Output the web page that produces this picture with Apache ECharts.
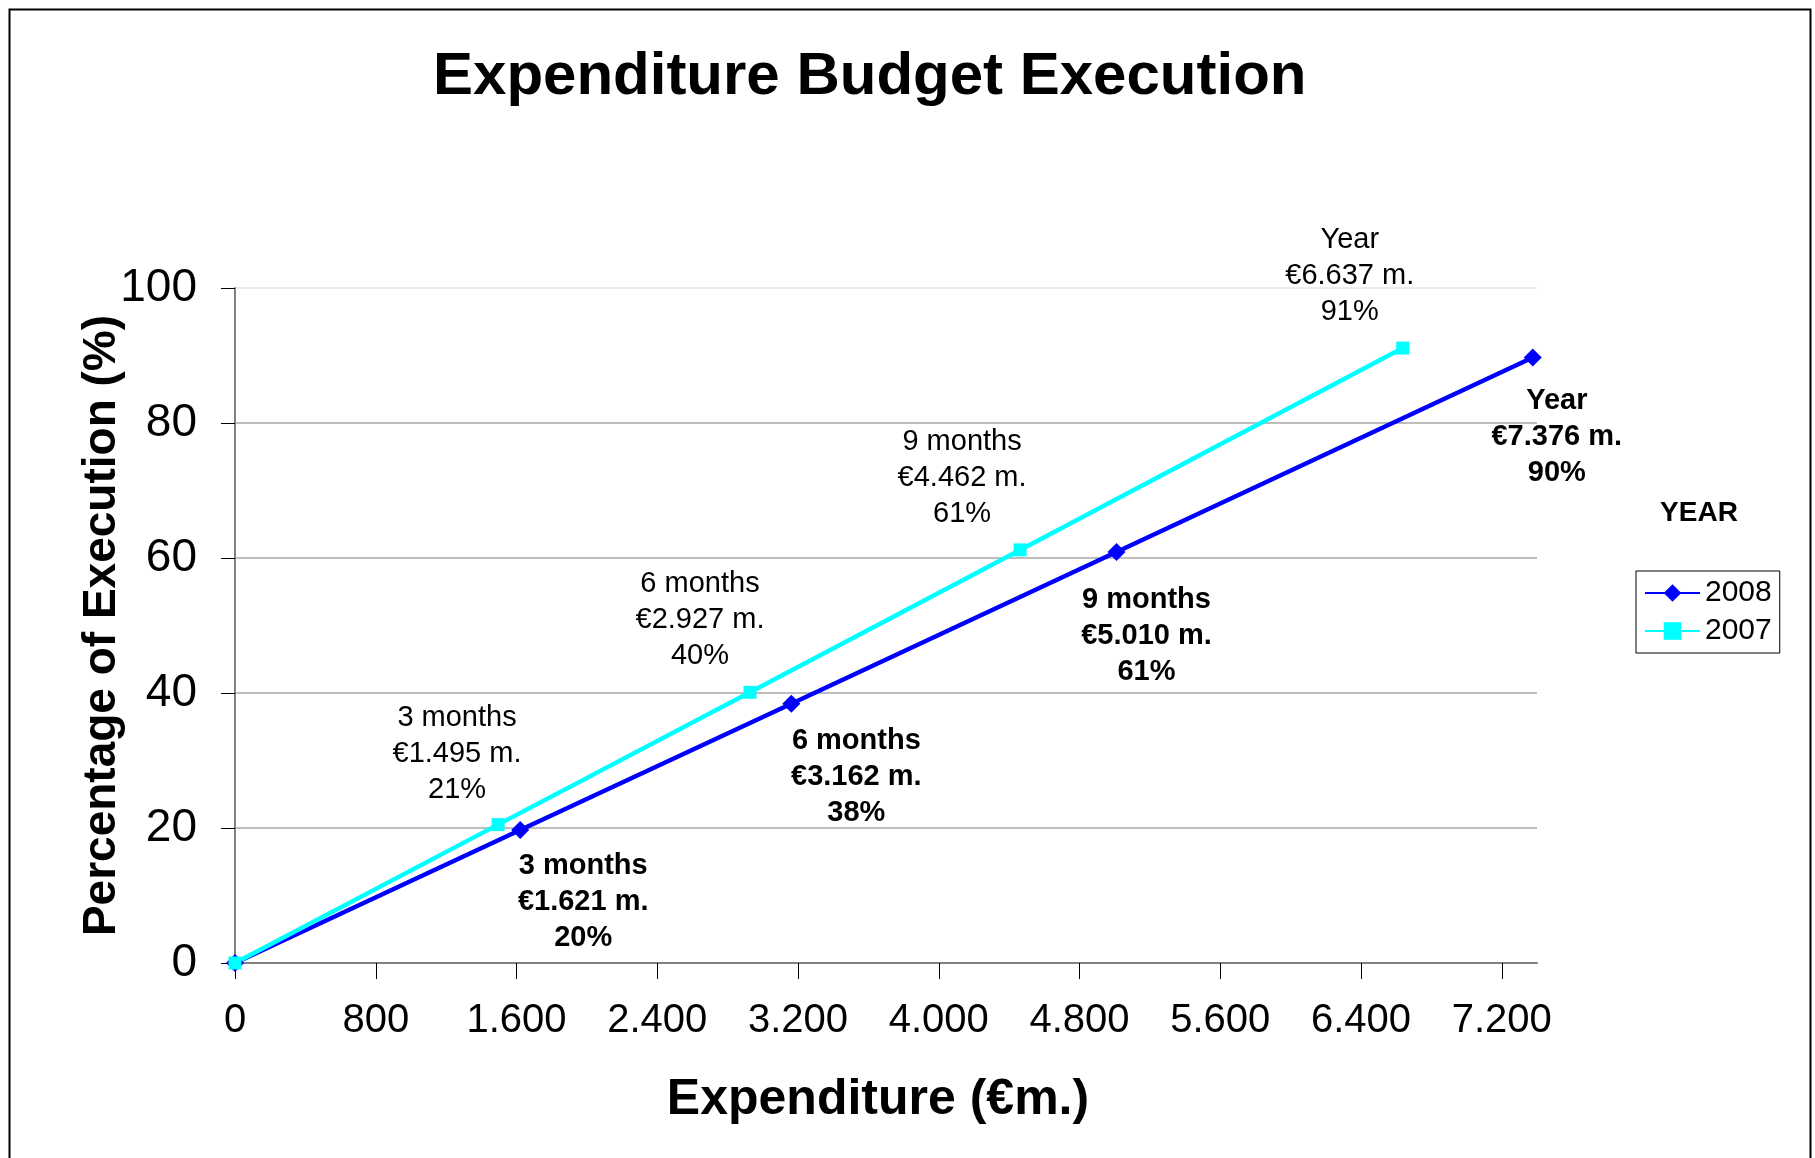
<!DOCTYPE html>
<html>
<head>
<meta charset="utf-8">
<title>Expenditure Budget Execution</title>
<script src="https://cdn.jsdelivr.net/npm/echarts@6/dist/echarts.min.js"></script>
<style>
  html, body { margin: 0; padding: 0; background: #fff; }
  #chart { width: 1815px; height: 1158px; }
</style>
</head>
<body>
<div id="chart"></div>
<script>
// values (expenditure in thousands of euro, execution in %)
const periods = ['', '3 months', '6 months', '9 months', 'Year'];
const spend2008 = [0, 1621, 3162, 5010, 7376];
const pct2008 = [0, 19.7, 38.4, 60.9, 89.7];
const spend2007 = [0, 1495, 2927, 4462, 6637];
const pct2007 = [0, 20.5, 40.1, 61.2, 91.1];
const xTicks = [0, 800, 1600, 2400, 3200, 4000, 4800, 5600, 6400, 7200];

// where each label sits relative to its marker
const offsets2008 = [null, [63, 72], [65, 73], [30, 84], [24, 79]];
const offsets2007 = [null, [-41, -71], [-50, -72], [-58, -72], [-53, -72]];

const FONT = '"Liberation Sans", Arial, sans-serif';

function euro(v) {
    if (v < 1000) return String(v);
    return Math.floor(v / 1000) + '.' + String(v % 1000).padStart(3, '0');
}

function buildData(xs, ys, offs, bold) {
    return xs.map((x, i) => {
        const item = { value: [x, ys[i]] };
        if (i === 0) {
            item.label = { show: false };
        } else {
            item.label = {
                show: true,
                position: 'inside',
                offset: offs[i],
                align: 'center',
                verticalAlign: 'middle',
                fontFamily: FONT,
                fontSize: 29,
                lineHeight: 36,
                fontWeight: bold ? 'bold' : 'normal',
                color: '#000',
                formatter: periods[i] + '\n€' + euro(x) + ' m.\n' + Math.round(ys[i]) + '%'
            };
        }
        return item;
    });
}

const chart = echarts.init(document.getElementById('chart'));
const option = {
    animation: false,
    backgroundColor: '#fff',
    title: {
        text: 'Expenditure Budget Execution',
        left: 428,
        top: 42,
        textStyle: { fontFamily: FONT, fontSize: 60, fontWeight: 'bold', color: '#000' }
    },
    legend: {
        orient: 'vertical',
        left: 1636,
        top: 571,
        padding: [7, 8, 7, 8],
        itemGap: 8,
        itemWidth: 55,
        itemHeight: 22,
        borderColor: '#000',
        borderWidth: 1,
        textStyle: { fontFamily: FONT, fontSize: 30, color: '#000' },
        data: ['2008', '2007']
    },
    grid: { left: 235, right: 278, top: 288, bottom: 195 },
    xAxis: {
        type: 'value',
        min: 0,
        max: 7400,
        interval: 800,
        name: 'Expenditure (€m.)',
        nameLocation: 'middle',
        nameGap: 112,
        nameMoveOverlap: false,
        nameTextStyle: { fontFamily: FONT, fontSize: 50, fontWeight: 'bold', color: '#000', padding: [0, 16, 0, 0] },
        axisLine: { lineStyle: { color: '#808080', width: 2 } },
        axisTick: { show: true, length: 16, customValues: xTicks, lineStyle: { color: '#000', width: 1 } },
        axisLabel: {
            customValues: xTicks,
            margin: 38,
            fontFamily: FONT,
            fontSize: 40,
            color: '#000',
            formatter: euro
        },
        splitLine: { show: false }
    },
    yAxis: {
        type: 'value',
        min: 0,
        max: 100,
        interval: 20,
        name: 'Percentage of Execution (%)',
        nameLocation: 'middle',
        nameRotate: 90,
        nameGap: 110,
        nameMoveOverlap: false,
        nameTextStyle: { fontFamily: FONT, fontSize: 46, fontWeight: 'bold', color: '#000' },
        axisLine: { show: true, lineStyle: { color: '#808080', width: 2 } },
        axisTick: { show: true, length: 14, lineStyle: { color: '#000', width: 1 } },
        axisLabel: { margin: 38, fontFamily: FONT, fontSize: 46, color: '#000' },
        splitLine: {
            show: true,
            lineStyle: { color: ['#bdbdbd', '#bdbdbd', '#bdbdbd', '#bdbdbd', '#bdbdbd', '#ececec'], width: 2 }
        }
    },
    series: [
        {
            name: '2008',
            type: 'line',
            symbol: 'diamond',
            symbolSize: 18,
            showAllSymbol: true,
            itemStyle: { color: '#0000ff' },
            lineStyle: { color: '#0000ff', width: 4.5 },
            emphasis: { disabled: true },
            data: buildData(spend2008, pct2008, offsets2008, true)
        },
        {
            name: '2007',
            type: 'line',
            symbol: 'rect',
            symbolSize: 13,
            showAllSymbol: true,
            itemStyle: { color: '#00ffff' },
            lineStyle: { color: '#00ffff', width: 4.5 },
            emphasis: { disabled: true },
            data: buildData(spend2007, pct2007, offsets2007, false)
        }
    ],
    graphic: [
        {
            type: 'rect',
            left: 7,
            top: 7,
            shape: { width: 1801, height: 1170 },
            style: { fill: null, stroke: '#000', lineWidth: 2 },
            silent: true
        },
        {
            type: 'text',
            x: 1699,
            y: 513,
            style: {
                text: 'YEAR',
                fontFamily: FONT,
                fontSize: 28,
                fontWeight: 'bold',
                fill: '#000',
                align: 'center',
                verticalAlign: 'middle'
            }
        }
    ]
};
chart.setOption(option);
</script>
</body>
</html>
